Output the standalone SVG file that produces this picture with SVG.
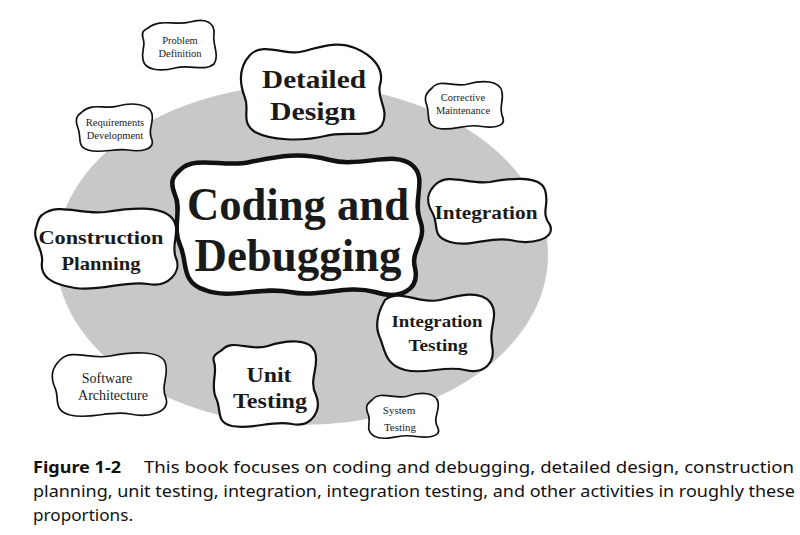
<svg xmlns="http://www.w3.org/2000/svg" width="800" height="535" viewBox="0 0 800 535">
<style>
.blob{fill:#fff;stroke:#111;stroke-width:2.2;stroke-linejoin:round}
.small{stroke-width:1.7}
.big{stroke-width:4.5}
.t{font-family:"Liberation Serif","DejaVu Serif",serif;fill:#1a1a1a;text-anchor:middle}
.b{font-weight:bold}
.cap{font-family:"Noto Sans","Open Sans",sans-serif;font-size:16.5px;fill:#111}
</style>
<rect width="800" height="535" fill="#fff"/>
<ellipse cx="302" cy="255" rx="246" ry="170" fill="#c8c8c8"/>

<g id="problem-definition">
<path class="blob small" d="M148,28 C160,18 175,26 190,22 C205,18 215,22 214,34 C212,44 220,55 214,64 C205,72 190,64 175,68 C160,72 145,70 143,60 C141,50 146,46 143,38 C141,32 144,30 148,28 Z"/>
<text class="t" font-size="10.5" x="180" y="44">Problem</text>
<text class="t" font-size="10.5" x="180" y="57">Definition</text>
</g>

<g id="detailed-design">
<path class="blob" d="M250,55 C262,42 285,55 300,52 C318,48 335,40 355,48 C372,55 385,68 380,85 C376,98 390,110 382,125 C372,140 345,130 325,136 C300,142 270,140 255,132 C240,122 250,110 245,98 C240,85 238,68 250,55 Z"/>
<text class="t b" font-size="26" x="314" y="88" textLength="104" lengthAdjust="spacingAndGlyphs">Detailed</text>
<text class="t b" font-size="26" x="313" y="120" textLength="86" lengthAdjust="spacingAndGlyphs">Design</text>
</g>

<g id="corrective-maintenance">
<path class="blob small" d="M432,88 C440,78 455,88 468,84 C482,80 500,80 502,92 C504,102 498,108 503,118 C506,128 490,128 478,126 C465,124 450,132 437,128 C425,124 430,115 427,106 C424,98 425,94 432,88 Z"/>
<text class="t" font-size="10.5" x="463" y="101">Corrective</text>
<text class="t" font-size="10.5" x="463" y="114">Maintenance</text>
</g>

<g id="requirements-development">
<path class="blob small" d="M82,112 C92,102 105,110 118,106 C132,102 150,104 152,114 C154,124 147,130 152,140 C155,150 140,152 128,150 C115,148 100,154 88,150 C76,146 82,138 78,128 C75,120 76,116 82,112 Z"/>
<text class="t" font-size="10.5" x="115" y="126">Requirements</text>
<text class="t" font-size="10.5" x="115" y="139">Development</text>
</g>

<g id="coding-and-debugging">
<path class="blob big" d="M180,170 C195,155 225,168 250,162 C280,156 300,152 330,160 C360,168 395,150 412,165 C428,178 412,200 420,220 C428,240 410,250 415,268 C420,290 400,300 375,292 C345,284 320,298 290,292 C260,286 230,300 205,290 C180,282 188,262 180,245 C172,228 182,210 175,195 C170,182 172,177 180,170 Z"/>
<text class="t b" font-size="46" x="298" y="220" textLength="222" lengthAdjust="spacingAndGlyphs">Coding and</text>
<text class="t b" font-size="46" x="298" y="271" textLength="207" lengthAdjust="spacingAndGlyphs">Debugging</text>
</g>

<g id="integration">
<path class="blob" d="M435,185 C448,172 468,185 490,182 C512,178 540,175 545,190 C550,205 540,212 550,225 C556,240 530,245 510,240 C490,236 470,248 450,242 C430,236 440,225 432,212 C425,200 428,192 435,185 Z"/>
<text class="t b" font-size="19" x="486" y="219" textLength="103" lengthAdjust="spacingAndGlyphs">Integration</text>
</g>

<g id="construction-planning">
<path class="blob" d="M42,215 C58,202 80,215 105,212 C130,208 160,205 172,218 C182,230 170,245 176,258 C182,272 168,288 148,284 C125,280 100,292 75,288 C50,284 40,276 42,262 C44,250 32,240 36,228 C38,222 38,218 42,215 Z"/>
<text class="t b" font-size="19" x="101" y="244" textLength="125" lengthAdjust="spacingAndGlyphs">Construction</text>
<text class="t b" font-size="19" x="101" y="270" textLength="79" lengthAdjust="spacingAndGlyphs">Planning</text>
</g>

<g id="integration-testing">
<path class="blob" d="M385,300 C400,288 420,305 440,300 C460,295 480,290 490,302 C500,315 488,328 492,345 C496,362 485,375 465,370 C445,365 425,375 405,370 C385,365 385,350 380,338 C374,325 378,312 385,300 Z"/>
<text class="t b" font-size="17" x="437" y="327" textLength="91" lengthAdjust="spacingAndGlyphs">Integration</text>
<text class="t b" font-size="17" x="438" y="351" textLength="59" lengthAdjust="spacingAndGlyphs">Testing</text>
</g>

<g id="software-architecture">
<path class="blob small" d="M60,360 C72,348 90,360 110,356 C130,352 160,350 165,362 C170,375 160,385 166,398 C170,412 150,418 130,414 C110,410 90,420 70,415 C52,410 60,398 55,388 C50,376 52,368 60,360 Z"/>
<text class="t" font-size="14" x="107" y="383">Software</text>
<text class="t" font-size="14" x="113" y="400">Architecture</text>
</g>

<g id="unit-testing">
<path class="blob" d="M222,350 C232,338 250,352 268,346 C286,340 310,338 315,352 C320,366 308,380 316,395 C322,410 312,428 292,424 C272,420 252,430 232,426 C215,422 222,410 216,398 C210,385 218,372 214,362 C212,356 216,354 222,350 Z"/>
<text class="t b" font-size="20" x="269" y="382" textLength="45" lengthAdjust="spacingAndGlyphs">Unit</text>
<text class="t b" font-size="20" x="270" y="408" textLength="74" lengthAdjust="spacingAndGlyphs">Testing</text>
</g>

<g id="system-testing">
<path class="blob small" d="M372,400 C380,390 395,400 408,396 C420,392 436,392 438,402 C440,412 432,418 438,428 C442,438 425,438 412,436 C398,434 385,442 374,436 C364,430 372,422 368,414 C365,406 367,404 372,400 Z"/>
<text class="t" font-size="11" x="399" y="414">System</text>
<text class="t" font-size="11" x="400" y="431">Testing</text>
</g>

<g id="caption">
<text class="cap" x="33" y="473" font-weight="bold" textLength="88" lengthAdjust="spacingAndGlyphs">Figure 1-2</text>
<text class="cap" x="144" y="473" textLength="650" lengthAdjust="spacingAndGlyphs">This book focuses on coding and debugging, detailed design, construction</text>
<text class="cap" x="33" y="497" textLength="762" lengthAdjust="spacingAndGlyphs">planning, unit testing, integration, integration testing, and other activities in roughly these</text>
<text class="cap" x="33" y="521" textLength="100" lengthAdjust="spacingAndGlyphs">proportions.</text>
</g>
</svg>
